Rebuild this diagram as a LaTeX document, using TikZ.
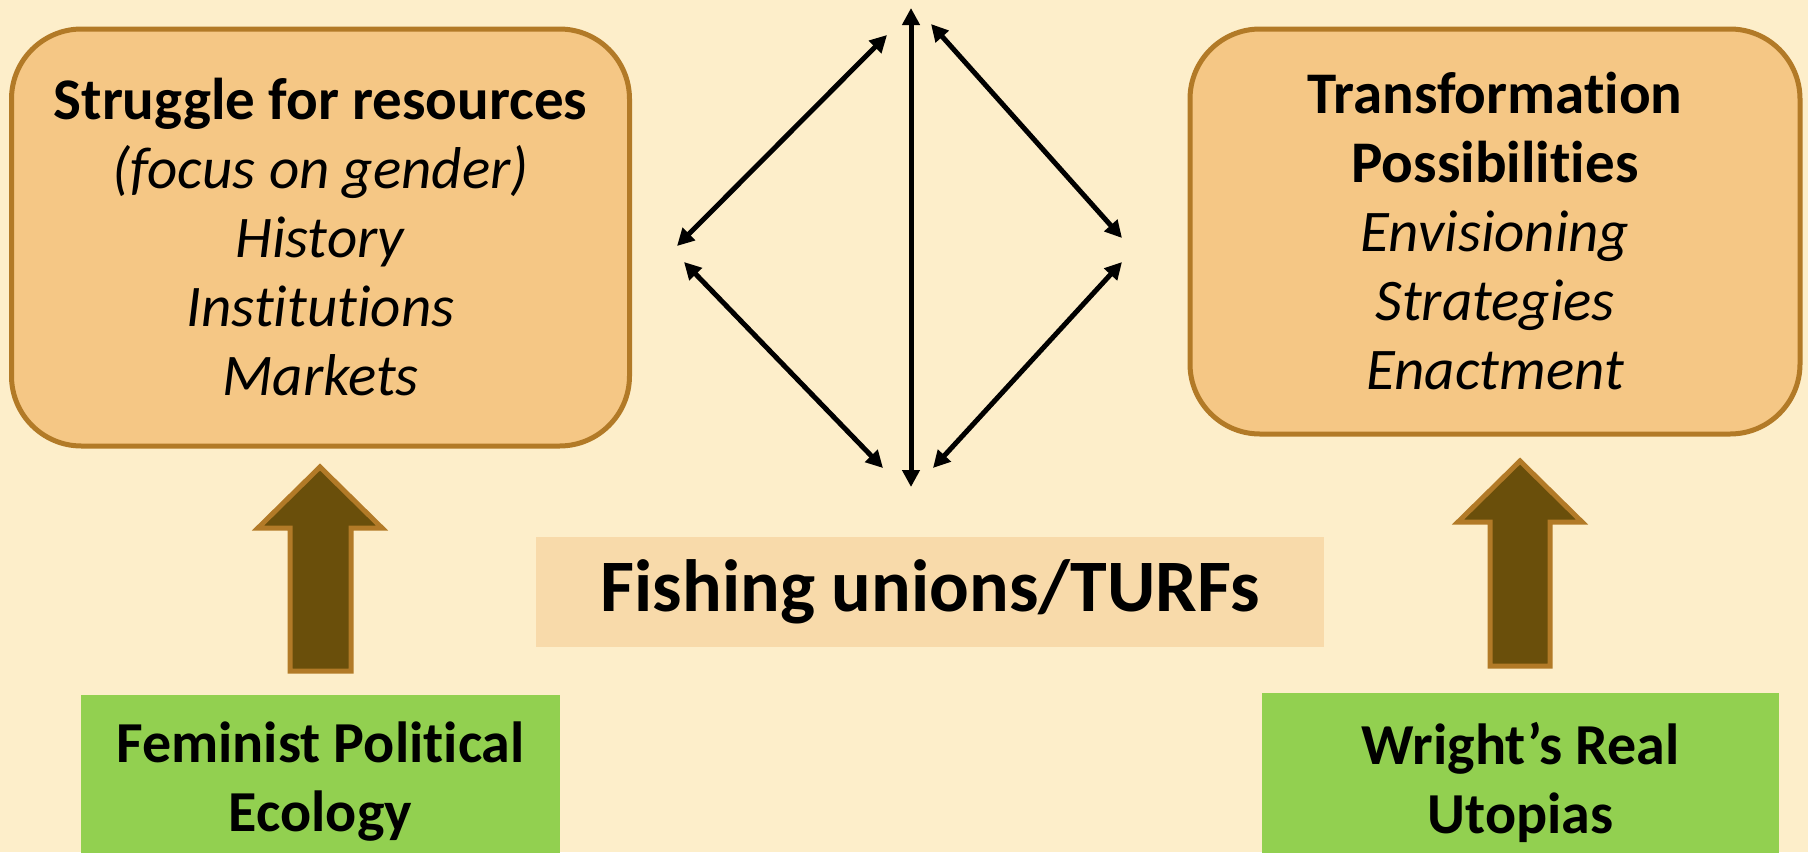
\documentclass[tikz,border=0pt]{standalone}
\usepackage{fontspec}
\setmainfont{Carlito}[Ligatures={NoCommon}]
\usetikzlibrary{arrows.meta}
\definecolor{bg}{HTML}{FDEECA}
\definecolor{boxfill}{HTML}{F5C785}
\definecolor{boxline}{HTML}{B27A27}
\definecolor{midfill}{HTML}{F8DAAA}
\definecolor{greenfill}{HTML}{92D050}
\definecolor{arrowfill}{HTML}{6A4F0B}
\begin{document}
\begin{tikzpicture}[x=1pt,y=-1pt,
  roundbox/.style={draw=boxline, fill=boxfill, line width=5pt, rounded corners=70pt,
    inner sep=0pt, align=center, font=\fontsize{59}{69}\selectfont},
  midbox/.style={fill=midfill, inner sep=0pt, align=center, font=\bfseries\fontsize{74}{88}\selectfont},
  greenbox/.style={fill=greenfill, inner sep=0pt, align=center, font=\bfseries\fontsize{58}{69}\selectfont},
  bigarrow/.style={fill=arrowfill, draw=boxline, line width=5pt, line join=miter},
  link/.style={line width=5pt, {Triangle[length=17pt,width=17pt]}-{Triangle[length=17pt,width=17pt]}}
]
\useasboundingbox (0,0) rectangle (1808,852);
\begin{scope}
\clip (0,0) rectangle (1808,852);
\fill[bg] (0,0) rectangle (1808,852);

% top boxes
\node[roundbox, minimum width=618pt, minimum height=417pt] (struggle) at (320.5,237.5)
  {\textbf{Struggle for resources}\\ \textit{(focus on gender)}\\ \textit{History}\\ \textit{Institutions}\\ \textit{Markets}};
\node[roundbox, minimum width=610pt, minimum height=405pt] (transf) at (1495,231.5)
  {\textbf{Transformation}\\ \textbf{Possibilities}\\ \textit{Envisioning}\\ \textit{Strategies}\\ \textit{Enactment}};

% middle box
\node[midbox, minimum width=788pt, minimum height=110pt] (fishing) at (930,592) {Fishing unions/TURFs};

% green boxes
\node[greenbox, minimum width=479pt, minimum height=174pt] (fpe) at (320.5,782) {Feminist Political\\Ecology};
\node[greenbox, minimum width=517pt, minimum height=178pt] (wright) at (1520.5,782) {Wright’s Real\\Utopias};

% big block arrows
\draw[bigarrow] (320,467) -- (382,528) -- (351,528) -- (351,671) -- (290,671) -- (290,528) -- (258,528) -- cycle;
\draw[bigarrow] (1520,461) -- (1582,522) -- (1550,522) -- (1550,666) -- (1490,666) -- (1490,522) -- (1458,522) -- cycle;

% double-headed arrows
\coordinate (vt) at (911,8);
\coordinate (vb) at (911,487);
\coordinate (ula) at (677,246);
\coordinate (ulb) at (887,35);
\coordinate (ura) at (931,24);
\coordinate (urb) at (1122,238);
\coordinate (lla) at (684,262);
\coordinate (llb) at (883,468);
\coordinate (lra) at (1122,262);
\coordinate (lrb) at (933,468);
\draw[link] (vt) -- (vb);
\draw[link] (ula) -- (ulb);
\draw[link] (ura) -- (urb);
\draw[link] (lla) -- (llb);
\draw[link] (lra) -- (lrb);
\end{scope}
\end{tikzpicture}
\end{document}
